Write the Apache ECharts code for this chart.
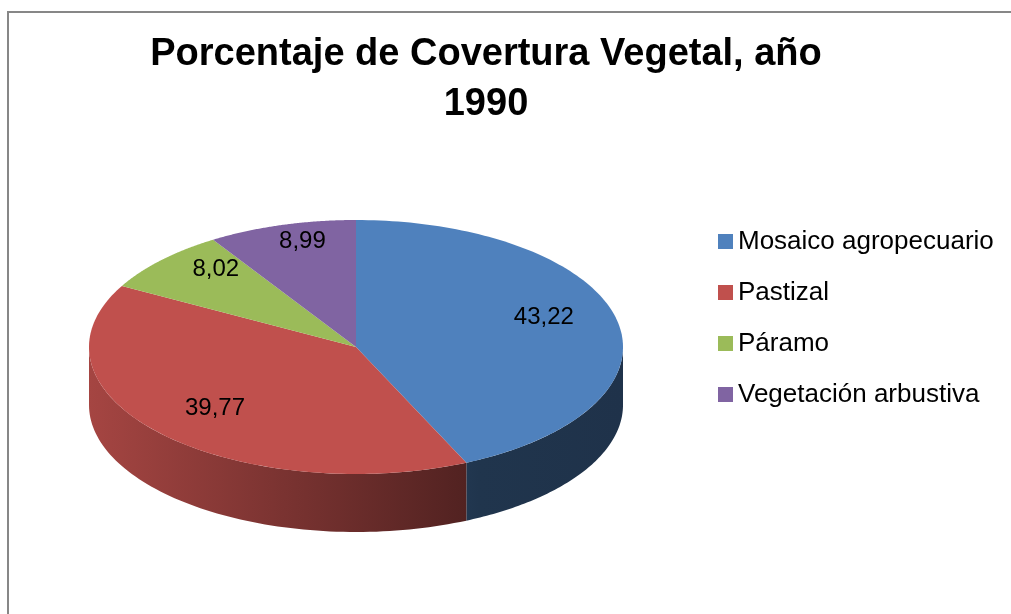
<!DOCTYPE html>
<html>
<head>
<meta charset="utf-8">
<script src="https://cdn.jsdelivr.net/npm/echarts@6/dist/echarts.min.js"></script>
<style>
  html, body { margin: 0; padding: 0; background: #fff; }
  #chart { width: 1011px; height: 614px; }
</style>
</head>
<body>
<div id="chart"></div>
<script>
// datos del gráfico
const categories = ['Mosaico agropecuario', 'Pastizal', 'Páramo', 'Vegetación arbustiva'];
const values = [43.22, 39.77, 8.02, 8.99];
const palette = ['#4F81BD', '#C0504D', '#9BBB59', '#8064A2'];

const FONT = 'Liberation Sans';
// geometría de la "torta" 3D
const cx = 356, cy = 347, rx = 267, ry = 127, depth = 58;

const total = values.reduce((a, b) => a + b, 0);
const starts = [];
let acc = 0;
values.forEach(v => { starts.push(acc / total * 360); acc += v; });

function pt(deg, dy) {
  const r = deg * Math.PI / 180;
  return [cx + rx * Math.sin(r), cy - ry * Math.cos(r) + (dy || 0)];
}

function shade(hex, f) {
  const n = parseInt(hex.slice(1), 16);
  const c = [(n >> 16) & 255, (n >> 8) & 255, n & 255].map(v => Math.round(v * f));
  return 'rgb(' + c.join(',') + ')';
}

function sideItem(params, api) {
  const i = params.dataIndex;
  const a0 = starts[i];
  const a1 = a0 + api.value(0) / total * 360;
  const s = Math.max(a0, 90), e = Math.min(a1, 270);
  if (e <= s) return { type: 'group', children: [] };
  const top = [], bottom = [];
  const n = 80;
  for (let k = 0; k <= n; k++) {
    const t = s + (e - s) * k / n;
    top.push(pt(t));
    bottom.unshift(pt(t, depth));
  }
  const base = palette[i];
  return {
    type: 'polygon',
    shape: { points: top.concat(bottom) },
    style: {
      fill: {
        type: 'linear', global: true,
        x: cx - rx, y: 0, x2: cx + rx, y2: 0,
        colorStops: [
          { offset: 0, color: shade(base, 0.86) },
          { offset: 0.73, color: shade(base, 0.41) },
          { offset: 1, color: shade(base, 0.39) }
        ]
      }
    }
  };
}

function topItem(params, api) {
  const i = params.dataIndex;
  const a0 = starts[i];
  const a1 = a0 + api.value(0) / total * 360;
  const pts = [[cx, cy]];
  const n = 120;
  for (let k = 0; k <= n; k++) pts.push(pt(a0 + (a1 - a0) * k / n));
  return {
    type: 'polygon',
    shape: { points: pts },
    style: { fill: palette[i] }
  };
}

function labelItem(params, api) {
  const i = params.dataIndex;
  const v = api.value(0);
  const mid = (starts[i] + v / total * 180) * Math.PI / 180;
  return {
    type: 'text',
    x: cx + rx * 0.72 * Math.sin(mid),
    y: cy - ry * 0.8 * Math.cos(mid) - 8,
    style: {
      text: v.toFixed(2).replace('.', ','),
      fill: '#000',
      font: '24px "' + FONT + '"',
      align: 'center',
      verticalAlign: 'middle'
    }
  };
}

const seriesData = values.map(v => [v]);

const myChart = echarts.init(document.getElementById('chart'));
const option = {
  backgroundColor: '#fff',
  animation: false,
  color: palette,
  title: {
    text: 'Porcentaje de Covertura Vegetal, año\n1990',
    left: 481,
    top: 25,
    textAlign: 'center',
    textStyle: {
      fontFamily: FONT,
      fontWeight: 'bold',
      fontSize: 38,
      lineHeight: 50,
      color: '#000'
    }
  },
  legend: {
    orient: 'vertical',
    left: 718,
    top: 228,
    padding: 0,
    icon: 'rect',
    itemWidth: 15,
    itemHeight: 15,
    itemGap: 24,
    selectedMode: false,
    data: categories,
    textStyle: { fontFamily: FONT, fontSize: 26, color: '#000', lineHeight: 27 }
  },
  graphic: [{
    type: 'rect',
    shape: { x: 8, y: 12, width: 1020, height: 620 },
    style: { fill: 'none', stroke: '#878787', lineWidth: 2 },
    silent: true
  }],
  series: [
    {
      // sólo para la leyenda
      type: 'pie',
      radius: [0, 0],
      center: [cx, cy],
      silent: true,
      label: { show: false },
      data: categories.map((c, i) => ({ name: c, value: values[i] }))
    },
    { type: 'custom', coordinateSystem: 'none', renderItem: sideItem, data: seriesData, z: 2, silent: true },
    { type: 'custom', coordinateSystem: 'none', renderItem: topItem, data: seriesData, z: 3, silent: true },
    { type: 'custom', coordinateSystem: 'none', renderItem: labelItem, data: seriesData, z: 4, silent: true }
  ]
};
myChart.setOption(option);
</script>
</body>
</html>
